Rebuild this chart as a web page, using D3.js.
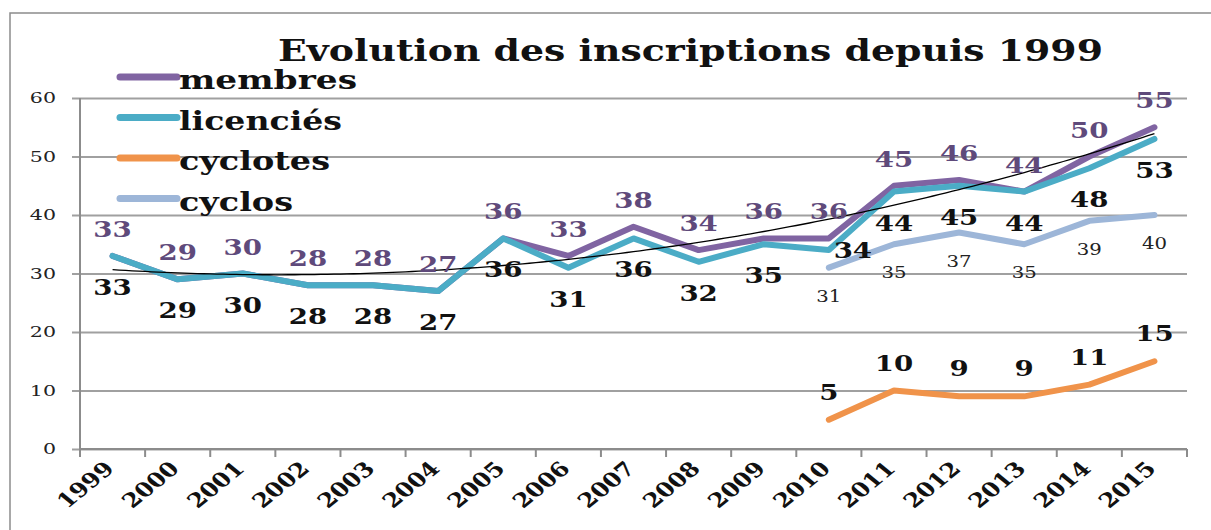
<!DOCTYPE html>
<html>
<head>
<meta charset="utf-8">
<script src="https://cdn.jsdelivr.net/npm/d3@7"></script>
<style>
  body { margin: 0; background: #fff; }
  svg { display: block; }
  text { font-family: "DejaVu Serif", serif; }
</style>
</head>
<body>
<svg id="chart" width="1211" height="530"></svg>
<script>
const years = ["1999","2000","2001","2002","2003","2004","2005","2006","2007","2008","2009","2010","2011","2012","2013","2014","2015"];
const membres   = [33, 29, 30, 28, 28, 27, 36, 33, 38, 34, 36, 36, 45, 46, 44, 50, 55];
const licencies = [33, 29, 30, 28, 28, 27, 36, 31, 36, 32, 35, 34, 44, 45, 44, 48, 53];
const cyclotes  = [null, null, null, null, null, null, null, null, null, null, null, 5, 10, 9, 9, 11, 15];
const cyclos    = [null, null, null, null, null, null, null, null, null, null, null, 31, 35, 37, 35, 39, 40];
const yTicks = [0, 10, 20, 30, 40, 50, 60];

const seriesNames = ["membres", "licenciés", "cyclotes", "cyclos"];
const colors = { membres: "#8064a2", "licenciés": "#4bacc6", cyclotes: "#f0934a", cyclos: "#9db6d8" };

const svg = d3.select("#chart");

const plotLeft = 80, plotRight = 1187, plotTop = 98, plotBottom = 449;
const x = d3.scaleBand().domain(years).range([plotLeft, plotRight]);
const y = d3.scaleLinear().domain([0, 60]).range([plotBottom, plotTop]);
const cx = d => x(d) + x.bandwidth() / 2;

// outer frame
svg.append("rect")
  .attr("x", 10).attr("y", 13)
  .attr("width", 1240).attr("height", 560)
  .attr("fill", "none").attr("stroke", "#8c8c8c").attr("stroke-width", 1.5);

// gridlines + left ticks
const grid = svg.append("g")
  .attr("transform", `translate(72,0)`)
  .call(d3.axisLeft(y).tickValues(yTicks).tickSize(-(plotRight - 72)).tickFormat(""));
grid.select(".domain").remove();
grid.selectAll(".tick line").attr("stroke", "#a0a0a0").attr("stroke-width", 2);

// y labels
svg.append("g").selectAll("text")
  .data(yTicks)
  .enter().append("text")
  .attr("transform", d => `translate(56,${y(d) + 5}) scale(1.37,1)`)
  .attr("text-anchor", "end")
  .style("font-size", "15px")
  .attr("fill", "#222")
  .text(d => d);

// axes lines
svg.append("line")
  .attr("x1", plotLeft).attr("x2", plotLeft).attr("y1", plotTop).attr("y2", plotBottom + 8)
  .attr("stroke", "#8c8c8c").attr("stroke-width", 2);
svg.append("line")
  .attr("x1", plotLeft).attr("x2", plotRight).attr("y1", plotBottom).attr("y2", plotBottom)
  .attr("stroke", "#8c8c8c").attr("stroke-width", 2);

// x ticks between categories
svg.append("g").selectAll("line")
  .data(years.slice(1).map(d => x(d)).concat([plotRight]))
  .enter().append("line")
  .attr("x1", d => d).attr("x2", d => d)
  .attr("y1", plotBottom).attr("y2", plotBottom + 8)
  .attr("stroke", "#8c8c8c").attr("stroke-width", 2);

// x labels, rotated
svg.append("g").selectAll("text")
  .data(years)
  .enter().append("text")
  .attr("transform", d => `translate(${cx(d) + 3},${plotBottom + 21}) scale(1.23,1) rotate(-45)`)
  .attr("text-anchor", "end")
  .style("font-size", "20px")
  .style("font-weight", "bold")
  .attr("fill", "#111")
  .text(d => d);

// lines
const line = d3.line()
  .defined(d => d.v != null)
  .x(d => cx(d.year))
  .y(d => y(d.v));

const toPts = arr => arr.map((v, i) => ({ year: years[i], v }));

[["cyclos", cyclos], ["cyclotes", cyclotes], ["membres", membres], ["licenciés", licencies]].forEach(([name, arr]) => {
  svg.append("path")
    .datum(toPts(arr))
    .attr("d", line)
    .attr("fill", "none")
    .attr("stroke", colors[name])
    .attr("stroke-width", 6)
    .attr("stroke-linejoin", "round")
    .attr("stroke-linecap", "round");
});

// polynomial (order 2) trendline on membres, least squares like Excel
function polyFit2(vals) {
  let s = [0, 0, 0, 0, 0], t = [0, 0, 0];
  vals.forEach((v, i) => {
    const xi = i + 1;
    for (let k = 0; k < 5; k++) s[k] += Math.pow(xi, k);
    for (let k = 0; k < 3; k++) t[k] += v * Math.pow(xi, k);
  });
  // solve 3x3 normal equations
  const A = [[s[0], s[1], s[2], t[0]], [s[1], s[2], s[3], t[1]], [s[2], s[3], s[4], t[2]]];
  for (let c = 0; c < 3; c++) {
    for (let r = c + 1; r < 3; r++) {
      const f = A[r][c] / A[c][c];
      for (let k = c; k < 4; k++) A[r][k] -= f * A[c][k];
    }
  }
  const b = [0, 0, 0];
  for (let r = 2; r >= 0; r--) {
    let sum = A[r][3];
    for (let k = r + 1; k < 3; k++) sum -= A[r][k] * b[k];
    b[r] = sum / A[r][r];
  }
  return xi => b[0] + b[1] * xi + b[2] * xi * xi;
}
const trend = polyFit2(membres);
const trendPts = d3.range(0, years.length - 1 + 0.001, 0.1).map(t => ({
  px: cx(years[0]) + t * x.step(),
  v: trend(t + 1)
}));
svg.append("path")
  .datum(trendPts)
  .attr("d", d3.line().x(d => d.px).y(d => y(d.v)))
  .attr("fill", "none")
  .attr("stroke", "#000")
  .attr("stroke-width", 1.3);

// data labels
function labels(arr, dy, fill, size, weight, sx, nudge) {
  svg.append("g").selectAll("text")
    .data(toPts(arr).filter(d => d.v != null))
    .enter().append("text")
    .attr("transform", d => {
      const n = (nudge && nudge[d.year]) || [0, 0];
      return `translate(${cx(d.year) + n[0]},${y(d.v) + dy + n[1]}) scale(${sx},1)`;
    })
    .attr("text-anchor", "middle")
    .style("font-size", size + "px")
    .style("font-weight", weight)
    .attr("fill", fill)
    .text(d => d.v);
}
labels(membres, -19, "#5f4a7b", 23, "bold", 1.2);
labels(licencies, 39, "#111", 23, "bold", 1.2, { "2010": [24, -31] });
labels(cyclotes, -20, "#111", 23, "bold", 1.2);
labels(cyclos, 34, "#222", 16, "normal", 1.23);

// title
svg.append("text")
  .attr("x", 278).attr("y", 61)
  .attr("textLength", 825)
  .attr("lengthAdjust", "spacingAndGlyphs")
  .style("font-size", "30px")
  .style("font-weight", "bold")
  .attr("fill", "#111")
  .text("Evolution des inscriptions depuis 1999");

// legend
const legendWidths = { membres: 178, "licenciés": 163, cyclotes: 151, cyclos: 114 };
const legend = svg.append("g").selectAll("g")
  .data(seriesNames)
  .enter().append("g")
  .attr("transform", (d, i) => `translate(0,${77 + i * 40.5})`);
legend.append("line")
  .attr("x1", 120).attr("x2", 177)
  .attr("stroke", d => colors[d])
  .attr("stroke-width", 7)
  .attr("stroke-linecap", "round");
legend.append("text")
  .attr("x", 179).attr("y", 12)
  .attr("textLength", d => legendWidths[d])
  .attr("lengthAdjust", "spacingAndGlyphs")
  .style("font-size", "26px")
  .style("font-weight", "bold")
  .attr("fill", "#111")
  .text(d => d);
</script>
</body>
</html>
